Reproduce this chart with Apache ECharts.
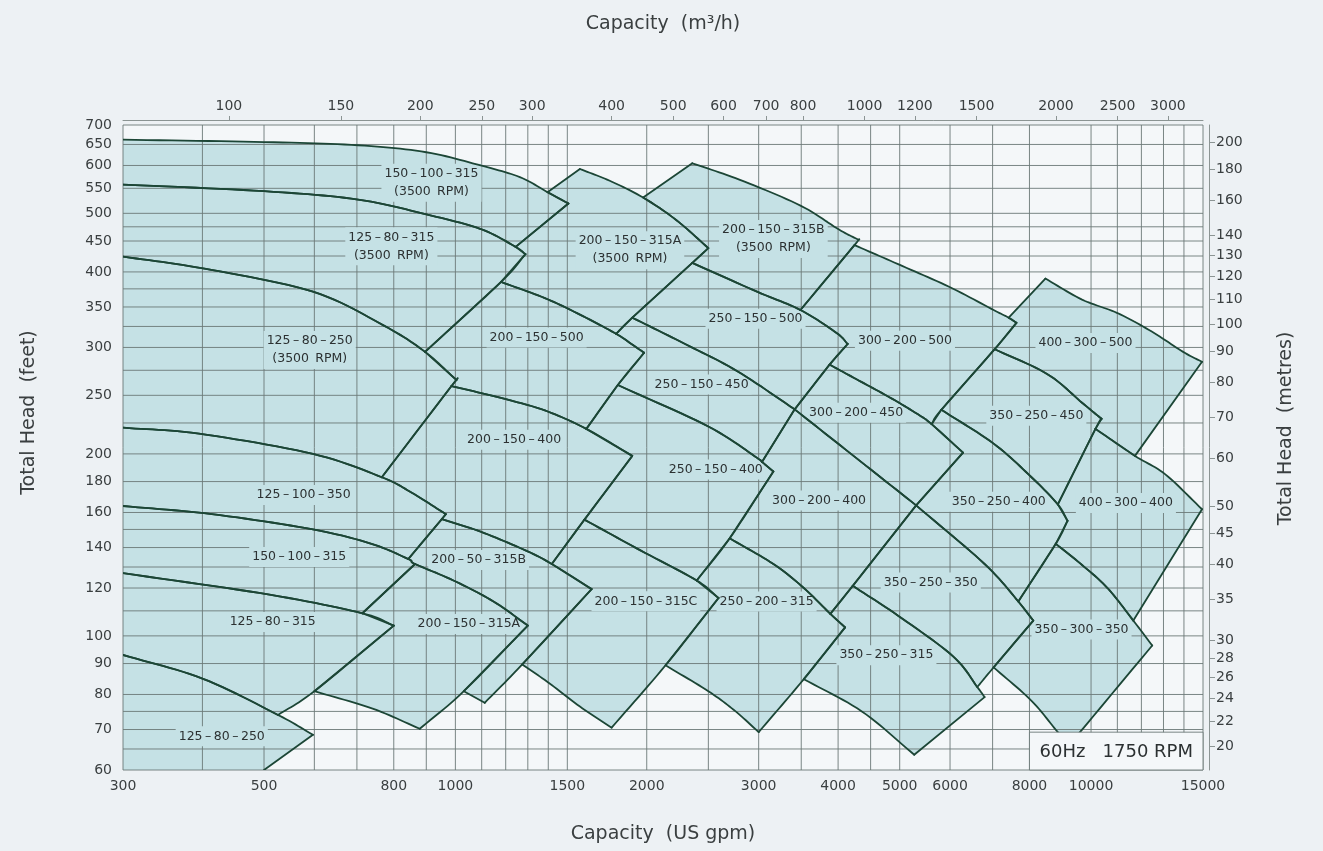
<!DOCTYPE html>
<html><head><meta charset="utf-8">
<script src="https://cdn.jsdelivr.net/npm/echarts@6/dist/echarts.min.js"></script>
<style>html,body{margin:0;padding:0;background:#edf1f4;}#c{width:1323px;height:851px;}</style>
</head><body><div id="c"></div>
<script>
// ---------- axis ticks / grid ----------
const gpmTicks   = [300,500,800,1000,1500,2000,3000,4000,5000,6000,8000,10000,15000];
const m3hTicks   = [100,150,200,250,300,400,500,600,700,800,1000,1200,1500,2000,2500,3000];
const feetTicks  = [60,70,80,90,100,120,140,160,180,200,250,300,350,400,450,500,550,600,650,700];
const metreTicks = [20,22,24,26,28,30,35,40,45,50,60,70,80,90,100,110,120,130,140,160,180,200];
const gpmGrid  = [300,400,500,600,700,800,900,1000,1100,1200,1300,1400,1500,2000,2500,3000,3500,4000,4500,5000,6000,7000,8000,10000,11000,12000,13000,14000,15000];
const feetGrid = [60,65,70,75,80,90,100,110,120,130,140,150,160,180,200,225,250,275,300,325,350,375,400,425,450,475,500,550,600,650,700];

// ---------- pump coverage regions: [US gpm, feet] outlines ----------
const p150_100_315_3500 = [[300,662],[500,656],[703,648],[900,631],[1096,600],[1263,574],[1396,542],[1506,519],[1244,440],[1096,471],[900,498],[703,527],[500,544],[300,558]];
const p125_80_315_3500  = [[300,558],[500,544],[703,527],[900,498],[1096,471],[1244,440],[1289,428],[1180,385],[896,295],[772,326],[597,371],[403,405],[300,424]];
const p125_80_250_3500  = [[300,424],[403,405],[597,371],[772,326],[896,295],[1004,265],[986,259],[766,183],[597,200],[395,216],[300,221]];
const p200_150_315A_3500 = [[1396,542],[1570,592],[1749,566],[1974,531],[2225,487.5],[2500,438],[2359,414],[1898,336],[1790,316],[1570,340],[1383,362],[1180,385],[1289,428],[1244,440],[1506,519]];
const p200_150_315B_3500 = [[1974,531],[2359,605],[2803,568],[3490,515],[4013,470],[4308,452],[4244,443],[3490,346],[2982,371],[2359,414],[2500,438],[2225,487.5]];
const p200_150_500 = [[1180,385],[1383,362],[1570,340],[1790,316],[1892,304],[1981,294],[1801,260],[1607,220],[1383,236],[1188,247],[986,259],[1004,265],[896,295]];
const p250_150_500 = [[2359,414],[2982,371],[3490,346],[3978,317],[4141,304],[3878,281],[3418,237],[2777,274],[2298,304],[1898,336]];
const p300_200_500 = [[4244,443],[4971,412],[5979,378],[7026,346],[7421,336],[7632,329.5],[7053,298],[5814,236.6],[5613,224],[5326,233],[4824,248],[4269,266],[3878,281],[4141,304],[3978,317],[3490,346]];
const p400_300_500 = [[7421,336],[8475,390],[9679,360],[11000,342],[12440,319],[13957,295],[14947,284],[11724,198.5],[10161,220],[10387,228.6],[9679,243],[8538,271],[7053,298],[7632,329.5]];
const p250_150_450 = [[1898,336],[2298,304],[2777,274],[3418,237],[3036,194],[2982,197],[2500,222],[1801,260],[1981,294],[1892,304],[1790,316]];
const p300_200_450 = [[3878,281],[4269,266],[4824,248],[5326,233],[5613,224],[6289,201],[5307,164.4],[4269,197],[3418,237]];
const p350_250_450 = [[7053,298],[8538,271],[9679,243],[10387,228.6],[10161,220],[8866,165],[8060,183],[7026,208],[5814,236.6]];
const p200_150_400 = [[986,259],[1188,247],[1383,236],[1607,220],[1898,198.5],[1596,155.7],[1418,131.5],[1289,138.5],[1096,148.7],[952,156],[966,159],[854,172.5],[766,183]];
const p250_150_400 = [[1801,260],[2500,222],[2982,197],[3036,194],[3164,187],[2701,145],[2397,123.5],[1955,138.5],[1596,155.7],[1898,198.5],[1607,220]];
const p300_200_400 = [[3418,237],[4269,197],[5307,164.4],[4218,121],[3889,108.75],[3533,120],[3164,131.5],[2701,145],[3164,187],[3036,194]];
const p350_250_400 = [[5814,236.6],[7026,208],[8060,183],[8866,165],[9183,155],[8800,142],[7684,114],[6800,131.5],[5307,164.4],[6289,201],[5613,224]];
const p400_300_400 = [[10161,220],[11724,198.5],[13087,185],[14947,162],[11655,106],[10613,120],[9679,131],[8800,142],[9183,155],[8866,165]];
const p125_100_350 = [[300,221],[395,216],[597,200],[766,183],[854,172.5],[966,159],[952,156],[843,134],[738,142],[597,150],[414,159],[300,164]];
const p200_50_315B = [[952,156],[1096,148.7],[1289,138.5],[1418,131.5],[1638,119.5],[1274,89.7],[1112,77.5],[1031,81],[1300,104],[1148,114],[993,123.5],[864,131.5],[843,134]];
const p150_100_315 = [[300,164],[414,159],[597,150],[738,142],[843,134],[864,131.5],[714,109],[510,117],[300,127]];
const p200_150_315C = [[1596,155.7],[1955,138.5],[2397,123.5],[2594,115.5],[2141,89.4],[1761,70.5],[1570,76.4],[1405,83.5],[1274,89.7],[1638,119.5],[1418,131.5]];
const p250_200_315 = [[2701,145],[3164,131.5],[3533,120],[3889,108.75],[4103,103.3],[3533,84.8],[3000,69.3],[2760,75],[2500,81],[2141,89.4],[2594,115.5],[2397,123.5]];
const p350_250_350 = [[5307,164.4],[6800,131.5],[7684,114],[8112,106],[7026,88.7],[6622,82.3],[6067,92.5],[4971,108],[4218,121]];
const p350_300_350 = [[8800,142],[9679,131],[10613,120],[11655,106],[12480,96.4],[9606,69.3],[9252,66.3],[8866,69.3],[8060,78.1],[7026,88.7],[8112,106],[7684,114]];
const p125_80_315 = [[300,127],[510,117],[714,109],[800,104],[600,81],[526,74],[400,85],[300,93]];
const p200_150_315A = [[864,131.5],[993,123.5],[1148,114],[1300,104],[1031,81],[879,70.2],[741,75.8],[600,81],[800,104],[714,109]];
const p350_250_315 = [[4218,121],[4971,108],[6067,92.5],[6622,82.3],[6800,79.2],[5270,63.6],[4359,75],[3533,84.8],[4103,103.3],[3889,108.75]];
const p125_80_250 = [[300,93],[400,85],[526,74],[597,68.6],[500,60],[300,60]];

// ---------- labels ----------
const modelNames = ["150-100-315","125-80-315","125-80-250","200-150-315A","200-150-315B","200-150-500","250-150-500","300-200-500","400-300-500","250-150-450","300-200-450","350-250-450","200-150-400","250-150-400","300-200-400","350-250-400","400-300-400","125-100-350","200-50-315B","150-100-315","200-150-315C","250-200-315","350-250-350","350-300-350","125-80-315","200-150-315A","350-250-315","125-80-250"];
const modelSpeed = ["3500 RPM","3500 RPM","3500 RPM","3500 RPM","3500 RPM","","","","","","","","","","","","","","","","","","","","","","",""];
const labelGpm  = [917,793,590,1882,3164,1342,2966,5096,9800,2440,4269,8202,1237,2568,3733,7158,11345,577,1088,568,1994,3087,5596,9660,516,1050,4765,429];
const labelFeet = [562,441,297,434.5,453.6,311.5,334.6,307.7,305,260.6,233.9,231.2,211,188.5,167.4,166.7,165.9,171.1,133.5,135,114.1,114,122.5,102.5,105.4,104.6,92.9,68.2];
const regionOutlines = [p150_100_315_3500,p125_80_315_3500,p125_80_250_3500,p200_150_315A_3500,p200_150_315B_3500,p200_150_500,p250_150_500,p300_200_500,p400_300_500,p250_150_450,p300_200_450,p350_250_450,p200_150_400,p250_150_400,p300_200_400,p350_250_400,p400_300_400,p125_100_350,p200_50_315B,p150_100_315,p200_150_315C,p250_200_315,p350_250_350,p350_300_350,p125_80_315,p200_150_315A,p350_250_315,p125_80_250];

const boxGpm = [8000,15000];
const boxFeet = [60,69.3];
const boxText = "60Hz   1750 RPM";

// ---------- styling ----------
const G2M = 0.2271247, F2M = 0.3048;
const FILL = '#c5e1e5', STROKE = '#1c4636', GRID = '#6b7877', PLOT_BG = '#f4f7f9', TXT = '#3a3f40';
const FONT = 'DejaVu Sans, Verdana, sans-serif';

const chart = echarts.init(document.getElementById('c'), null, {renderer:'canvas'});
const fmt = v => String(Math.round(v));
const regionData = regionOutlines.map((o,i)=>[o[0][0], o[0][1], i]);
const onFrameData = p => p[0] <= 300 || p[1] <= 60;
const keyOf = p => p[0]+','+p[1];

// ---------- geometry: split outlines at corners, smooth curve pieces consistently ----------
let GEOM = null;
function angleOK(g, c){
  const lg=Math.hypot(g[0],g[1]), lc=Math.hypot(c[0],c[1]);
  if (lg<1e-6||lc<1e-6) return false;
  return (g[0]*c[0]+g[1]*c[1])/(lg*lc) > Math.cos(25*Math.PI/180);
}
function orient(g, c){ return (g[0]*c[0]+g[1]*c[1]) < 0 ? [-g[0],-g[1]] : g; }
function geom(api){
  if (GEOM) return GEOM;
  const S = regionOutlines.map(o=>o.map(p=>api.coord(p)));
  const C = S.map((pts,r)=>{
    const n=pts.length;
    return pts.map((p,i)=>{
      if (onFrameData(regionOutlines[r][i])) return true;
      const a=pts[(i-1+n)%n], b=pts[(i+1)%n];
      const v1=[p[0]-a[0],p[1]-a[1]], v2=[b[0]-p[0],b[1]-p[1]];
      const l1=Math.hypot(v1[0],v1[1]), l2=Math.hypot(v2[0],v2[1]);
      if (l1<1e-6||l2<1e-6) return true;
      return (v1[0]*v2[0]+v1[1]*v2[1])/(l1*l2) < Math.cos(38*Math.PI/180);
    });
  });
  const tan = {};
  S.forEach((pts,r)=>{
    const n=pts.length;
    pts.forEach((p,i)=>{
      if (C[r][i]) return;
      const a=pts[(i-1+n)%n], b=pts[(i+1)%n];
      let t=[(b[0]-a[0])/2,(b[1]-a[1])/2];
      if (t[0]<0) t=[-t[0],-t[1]];
      const k=keyOf(regionOutlines[r][i]);
      if (!tan[k]) tan[k]=t;
    });
  });
  GEOM = S.map((pts,r)=>{
    const data=regionOutlines[r], n=pts.length, corner=C[r];
    let s=corner.indexOf(true); if (s<0) s=0;
    const pieces=[]; let cur=[s];
    for (let k=1;k<=n;k++){ const i=(s+k)%n; cur.push(i); if (corner[i]) { pieces.push(cur); cur=[i]; } }
    return pieces.map(idx=>{
      const P=idx.map(i=>pts[i]);
      const frame = idx.length===2 && ((data[idx[0]][0]<=300 && data[idx[1]][0]<=300) || (data[idx[0]][1]<=60 && data[idx[1]][1]<=60));
      if (P.length===2) return {pts:P, frame};
      const m=P.length-1;
      const T=P.map((p,j)=>{
        const local = j===0 ? [P[1][0]-P[0][0],P[1][1]-P[0][1]]
                    : j===m ? [P[m][0]-P[m-1][0],P[m][1]-P[m-1][1]]
                    : [(P[j+1][0]-P[j-1][0])/2,(P[j+1][1]-P[j-1][1])/2];
        const g=tan[keyOf(data[idx[j]])];
        if (g) { const go=orient(g, local); if (angleOK(go, local)) return go; }
        return local;
      });
      const out=[P[0]];
      for (let j=0;j<m;j++){
        const p0=P[j], p3=P[j+1];
        const p1=[p0[0]+T[j][0]/3, p0[1]+T[j][1]/3], p2=[p3[0]-T[j+1][0]/3, p3[1]-T[j+1][1]/3];
        for (let t=1;t<=12;t++){
          const u=t/12, w=1-u;
          out.push([w*w*w*p0[0]+3*w*w*u*p1[0]+3*w*u*u*p2[0]+u*u*u*p3[0],
                    w*w*w*p0[1]+3*w*w*u*p1[1]+3*w*u*u*p2[1]+u*u*u*p3[1]]);
        }
      }
      return {pts:out, frame};
    });
  });
  return GEOM;
}

const option = {
  backgroundColor: '#edf1f4',
  animation: false,
  grid: {left:123, right:120, top:125, bottom:81, show:true, backgroundColor:PLOT_BG, borderWidth:0},
  xAxis: [
    {type:'log', min:300, max:15000, position:'bottom',
     axisLine:{show:false}, axisTick:{show:false}, splitLine:{show:false}, minorTick:{show:false},
     axisLabel:{customValues:gpmTicks, formatter:fmt, color:TXT, fontSize:14, fontFamily:FONT, margin:9},
     name:'Capacity  (US gpm)', nameLocation:'middle', nameGap:55,
     nameTextStyle:{fontSize:19, color:TXT, fontFamily:FONT}},
    {type:'log', min:300*G2M, max:15000*G2M, position:'top', offset:5,
     axisLine:{show:true, lineStyle:{color:'#8b9493', width:1}},
     axisTick:{show:true, customValues:m3hTicks, length:4, lineStyle:{color:'#8b9493'}},
     splitLine:{show:false},
     axisLabel:{customValues:m3hTicks, formatter:fmt, color:TXT, fontSize:14, fontFamily:FONT, margin:7},
     name:'Capacity  (m³/h)', nameLocation:'middle', nameGap:86,
     nameTextStyle:{fontSize:19, color:TXT, fontFamily:FONT}}
  ],
  yAxis: [
    {type:'log', min:60, max:700, position:'left',
     axisLine:{show:false}, axisTick:{show:false}, splitLine:{show:false},
     axisLabel:{customValues:feetTicks, formatter:fmt, color:TXT, fontSize:14, fontFamily:FONT, margin:11},
     name:'Total Head  (feet)', nameLocation:'middle', nameGap:84, nameRotate:90,
     nameTextStyle:{fontSize:19, color:TXT, fontFamily:FONT, padding:[0,0,0,70]}},
    {type:'log', min:60*F2M, max:700*F2M, position:'right', offset:6,
     axisLine:{show:true, lineStyle:{color:'#8b9493', width:1}},
     axisTick:{show:true, customValues:metreTicks, length:6, lineStyle:{color:'#8b9493'}},
     splitLine:{show:false},
     axisLabel:{customValues:metreTicks, formatter:fmt, color:TXT, fontSize:14, fontFamily:FONT, margin:7},
     name:'Total Head  (metres)', nameLocation:'middle', nameGap:68, nameRotate:90,
     nameTextStyle:{fontSize:19, color:TXT, fontFamily:FONT, padding:[0,0,0,38]}}
  ],
  series: [
    { // region fills
      type:'custom', xAxisIndex:0, yAxisIndex:0, z:1, silent:true, clip:true,
      data: regionData, encode:{x:0, y:1},
      renderItem:(params, api)=>{
        const pieces = geom(api)[api.value(2)];
        const pts = [];
        pieces.forEach(pc=>{ pc.pts.forEach((p,k)=>{ if (k>0 || !pts.length) pts.push(p); }); });
        return {type:'polygon', shape:{points:pts}, style:{fill:FILL, stroke:FILL, lineWidth:0.6}};
      }
    },
    { // grid lines
      type:'custom', xAxisIndex:0, yAxisIndex:0, z:2, silent:true, clip:false,
      data: gpmGrid.map(v=>[v,60,0]).concat(feetGrid.map(v=>[300,v,1])),
      encode:{x:0, y:1},
      renderItem:(params, api)=>{
        let a, b;
        if (api.value(2)===0) { a = api.coord([api.value(0),60]); b = api.coord([api.value(0),700]); }
        else { a = api.coord([300,api.value(1)]); b = api.coord([15000,api.value(1)]); }
        return {type:'line', shape:{x1:a[0],y1:a[1],x2:b[0],y2:b[1]}, style:{stroke:GRID, lineWidth:0.9}};
      }
    },
    { // model labels (under the outlines, over the grid)
      type:'custom', xAxisIndex:0, yAxisIndex:0, z:3, silent:true, clip:false,
      data: labelGpm.map((g,i)=>[g, labelFeet[i], i]), encode:{x:0,y:1},
      renderItem:(params, api)=>{
        const i = api.value(2);
        const p = api.coord([api.value(0), api.value(1)]);
        let t = modelNames[i].split('-').join('\u2009\u2013\u2009');
        if (modelSpeed[i]) t += '\n(' + modelSpeed[i].replace(' ', '\u2002') + ')';
        return {type:'text', x:p[0], y:p[1],
          style:{text:t, fill:'#2c3132', font:'12.5px '+FONT, align:'center', verticalAlign:'middle',
                 lineHeight:18, backgroundColor:FILL, padding:[1,3]}};
      }
    },
    { // region outlines
      type:'custom', xAxisIndex:0, yAxisIndex:0, z:4, silent:true, clip:true,
      data: regionData, encode:{x:0, y:1},
      renderItem:(params, api)=>{
        const pieces = geom(api)[api.value(2)].filter(pc=>!pc.frame);
        return {type:'group', children: pieces.map(pc=>({type:'polyline', shape:{points:pc.pts},
          style:{stroke:STROKE, lineWidth:1.8, fill:null, lineJoin:'miter', miterLimit:2.5, lineCap:'round'}}))};
      }
    },
    { // 60Hz box
      type:'custom', xAxisIndex:0, yAxisIndex:0, z:5, silent:true, clip:false,
      data:[[boxGpm[0], boxFeet[0]]], encode:{x:0,y:1},
      renderItem:(params, api)=>{
        const tl = api.coord([boxGpm[0], boxFeet[1]]), br = api.coord([boxGpm[1], boxFeet[0]]);
        return {type:'group', children:[
          {type:'rect', shape:{x:tl[0], y:tl[1], width:br[0]-tl[0], height:br[1]-tl[1]},
           style:{fill:PLOT_BG, stroke:GRID, lineWidth:0.9}},
          {type:'text', x:(tl[0]+br[0])/2, y:(tl[1]+br[1])/2+1,
           style:{text:boxText, fill:'#2c3132', font:'18px '+FONT, align:'center', verticalAlign:'middle'}}
        ]};
      }
    }
  ]
};
chart.setOption(option);
</script>
</body></html>
